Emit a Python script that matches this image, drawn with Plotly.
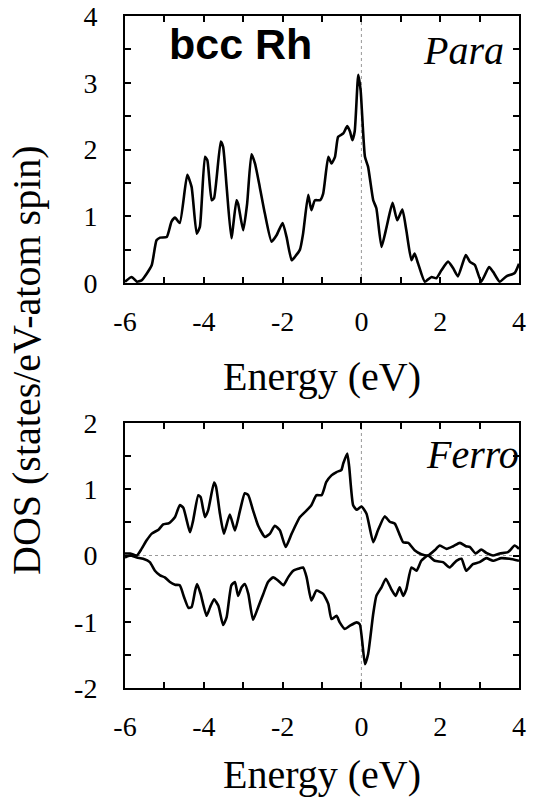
import plotly.graph_objects as go

# ---------------- data ----------------
para_E = [-6.00, -5.83, -5.70, -5.58, -5.45, -5.32, -5.20, -5.11, -4.94, -4.82, -4.73, -4.61,
          -4.42, -4.31, -4.18, -4.10, -3.97, -3.91, -3.80, -3.74, -3.57, -3.51, -3.42, -3.30,
          -3.17, -3.13, -3.00, -2.90, -2.79, -2.70, -2.58, -2.45, -2.28, -2.15, -2.00, -1.90,
          -1.77, -1.69, -1.56, -1.48, -1.35, -1.27, -1.18, -1.05, -0.97, -0.84, -0.76, -0.67,
          -0.59, -0.46, -0.36, -0.29, -0.23, -0.17, -0.08, -0.02, 0.09, 0.17, 0.30, 0.38,
          0.51, 0.64, 0.79, 0.91, 1.04, 1.14, 1.27, 1.35, 1.44, 1.61, 1.78, 1.90,
          2.03, 2.20, 2.33, 2.45, 2.65, 2.75, 2.88, 3.04, 3.24, 3.34, 3.51, 3.68, 3.89, 4.00]
para_dos = [0.02, 0.09, 0.02, 0.04, 0.14, 0.27, 0.64, 0.68, 0.69, 0.92, 0.98, 0.90,
            1.62, 1.44, 0.74, 0.84, 1.89, 1.84, 1.24, 1.27, 2.12, 2.04, 1.44, 0.67,
            1.24, 1.19, 0.79, 1.19, 1.93, 1.79, 1.44, 1.04, 0.62, 0.72, 0.90, 0.69,
            0.34, 0.39, 0.50, 0.74, 1.32, 1.09, 1.24, 1.24, 1.34, 1.89, 1.79, 1.89,
            2.19, 2.24, 2.35, 2.27, 2.14, 2.27, 3.12, 2.89, 1.89, 1.74, 1.24, 1.12,
            0.54, 0.84, 1.20, 0.94, 1.10, 0.79, 0.34, 0.44, 0.29, 0.02, 0.09, 0.07,
            0.19, 0.32, 0.22, 0.10, 0.42, 0.32, 0.27, 0.02, 0.24, 0.17, 0.02, 0.10, 0.15, 0.29]

up_E = [-6.00, -5.87, -5.70, -5.58, -5.45, -5.32, -5.15, -5.03, -4.88, -4.73, -4.61, -4.52,
        -4.35, -4.27, -4.14, -4.08, -3.97, -3.89, -3.74, -3.69, -3.59, -3.49, -3.34, -3.21,
        -3.08, -2.96, -2.87, -2.75, -2.62, -2.45, -2.32, -2.20, -2.07, -1.92, -1.77, -1.56,
        -1.39, -1.27, -1.14, -1.01, -0.89, -0.76, -0.63, -0.51, -0.46, -0.36, -0.31, -0.21,
        -0.12, 0.00, 0.13, 0.30, 0.42, 0.59, 0.72, 0.85, 0.96, 1.06, 1.19, 1.35,
        1.52, 1.69, 1.86, 1.99, 2.16, 2.33, 2.50, 2.65, 2.75, 2.90, 3.04, 3.17,
        3.34, 3.51, 3.72, 3.89, 4.00]
up_dos = [0.03, 0.03, 0.00, 0.10, 0.23, 0.33, 0.39, 0.47, 0.49, 0.58, 0.76, 0.72,
          0.35, 0.53, 0.91, 0.88, 0.58, 0.68, 1.10, 1.04, 0.63, 0.33, 0.62, 0.38,
          0.68, 0.94, 0.91, 0.68, 0.45, 0.28, 0.33, 0.45, 0.38, 0.13, 0.33, 0.58,
          0.68, 0.76, 0.91, 0.91, 1.11, 1.21, 1.26, 1.29, 1.39, 1.54, 1.34, 0.76,
          0.69, 0.74, 0.63, 0.20, 0.38, 0.59, 0.51, 0.48, 0.33, 0.20, 0.19, 0.08,
          0.02, 0.00, 0.08, 0.15, 0.10, 0.14, 0.19, 0.14, 0.13, 0.03, 0.09, 0.04,
          0.00, 0.03, 0.05, 0.15, 0.10]

down_E = [-6.00, -5.87, -5.70, -5.54, -5.37, -5.24, -5.11, -4.99, -4.86, -4.73, -4.61, -4.50,
          -4.39, -4.31, -4.22, -4.17, -4.08, -3.93, -3.84, -3.74, -3.63, -3.51, -3.42, -3.30,
          -3.21, -3.13, -3.04, -2.96, -2.87, -2.75, -2.62, -2.49, -2.37, -2.24, -2.11, -1.98,
          -1.86, -1.73, -1.60, -1.48, -1.39, -1.27, -1.14, -0.97, -0.84, -0.76, -0.63, -0.55,
          -0.42, -0.29, -0.12, -0.04, 0.09, 0.17, 0.30, 0.38, 0.51, 0.62, 0.76, 0.87,
          0.97, 1.06, 1.14, 1.27, 1.40, 1.52, 1.69, 1.86, 2.07, 2.24, 2.41, 2.54,
          2.66, 2.83, 3.00, 3.17, 3.34, 3.55, 3.76, 4.00]
down_dos = [-0.03, 0.00, -0.03, -0.05, -0.10, -0.23, -0.30, -0.33, -0.40, -0.44, -0.45, -0.63,
            -0.79, -0.78, -0.53, -0.43, -0.58, -0.91, -0.78, -0.66, -0.76, -1.05, -0.93, -0.45,
            -0.40, -0.61, -0.48, -0.43, -0.58, -0.97, -0.78, -0.58, -0.40, -0.33, -0.38, -0.45,
            -0.33, -0.23, -0.20, -0.18, -0.33, -0.68, -0.53, -0.58, -0.73, -0.96, -0.91, -1.01,
            -1.11, -1.06, -1.01, -1.04, -1.64, -1.49, -0.88, -0.61, -0.48, -0.35, -0.51, -0.61,
            -0.48, -0.61, -0.51, -0.18, -0.23, -0.08, 0.00, -0.08, -0.10, -0.18, -0.08, -0.05,
            -0.23, -0.13, -0.10, -0.04, -0.08, -0.04, -0.05, -0.08]

x_ticks = [-6, -4, -2, 0, 2, 4]
y_ticks_top = [0, 1, 2, 3, 4]
y_ticks_bot = [-2, -1, 0, 1, 2]

# ---------------- figure ----------------
W, H = 534, 805
SERIF = "Liberation Serif"
SANS = "Liberation Sans"
line = dict(color="black", width=2.6, shape="spline", smoothing=0.5)

fig = go.Figure()
fig.add_trace(go.Scatter(x=para_E, y=para_dos, mode="lines", line=line, xaxis="x", yaxis="y",
                         showlegend=False, hoverinfo="skip"))
fig.add_trace(go.Scatter(x=up_E, y=up_dos, mode="lines", line=line, xaxis="x2", yaxis="y2",
                         showlegend=False, hoverinfo="skip"))
fig.add_trace(go.Scatter(x=down_E, y=down_dos, mode="lines", line=line, xaxis="x2", yaxis="y2",
                         showlegend=False, hoverinfo="skip"))

def px_x(p):
    return p / W

def px_y(p):
    return 1 - p / H

xdom = [px_x(125), px_x(519)]
ydom_top = [px_y(283), px_y(16)]
ydom_bot = [px_y(688), px_y(423)]

def xaxis(anchor):
    return dict(domain=xdom, range=[-6, 4], anchor=anchor, tickvals=x_ticks,
                ticktext=[str(v) for v in x_ticks], automargin=False,
                ticks="inside", ticklen=6, tickwidth=1.5, tickcolor="black",
                minor=dict(dtick=1, ticks="inside", ticklen=6, tickwidth=1.5, tickcolor="black"),
                showline=True, linecolor="black", linewidth=2, mirror="ticks",
                showgrid=False, zeroline=False,
                tickfont=dict(family=SERIF, size=28, color="black"),
                ticklabelstandoff=12)

def yaxis(anchor, dom, rng, tv):
    return dict(domain=dom, range=rng, anchor=anchor, tickvals=tv,
                ticktext=[str(v) for v in tv], automargin=False,
                ticks="inside", ticklen=6, tickwidth=1.5, tickcolor="black",
                minor=dict(dtick=0.5, ticks="inside", ticklen=6, tickwidth=1.5, tickcolor="black"),
                showline=True, linecolor="black", linewidth=2, mirror="ticks",
                showgrid=False, zeroline=False,
                tickfont=dict(family=SERIF, size=28, color="black"),
                ticklabelstandoff=20)

fig.update_layout(
    width=W, height=H, autosize=False,
    margin=dict(l=0, r=0, t=0, b=0, pad=0),
    paper_bgcolor="white", plot_bgcolor="white",
    xaxis=xaxis("y"),
    yaxis=yaxis("x", ydom_top, [0, 4], y_ticks_top),
    xaxis2=xaxis("y2"),
    yaxis2=yaxis("x2", ydom_bot, [-2, 2], y_ticks_bot),
)

dot = dict(color="#999999", width=1, dash="dot")
fig.add_shape(type="line", xref="x", yref="y", x0=0, x1=0, y0=0, y1=4, line=dot, layer="below")
fig.add_shape(type="line", xref="x2", yref="y2", x0=0, x1=0, y0=-2, y1=2, line=dot, layer="below")
fig.add_shape(type="line", xref="x2", yref="y2", x0=-6, x1=4, y0=0, y1=0, line=dot, layer="below")

ann = [
    dict(text="Energy (eV)", x=px_x(322), y=px_y(376), font=dict(family=SERIF, size=40)),
    dict(text="Energy (eV)", x=px_x(322), y=px_y(774), font=dict(family=SERIF, size=40)),
    dict(text="DOS (states/eV-atom spin)", x=px_x(27), y=px_y(360), textangle=-90,
         font=dict(family=SERIF, size=40)),
    dict(text="<b>bcc Rh</b>", x=px_x(240), y=px_y(44),
         font=dict(family=SANS, size=43)),
    dict(text="<i>Para</i>", x=px_x(463), y=px_y(50), font=dict(family=SERIF, size=40)),
    dict(text="<i>Ferro</i>", x=px_x(521), y=px_y(455), xanchor="right",
         font=dict(family=SERIF, size=40)),
]
for a in ann:
    a.setdefault("xanchor", "center")
    a.update(xref="paper", yref="paper", yanchor="middle", showarrow=False)
    a["font"]["color"] = "black"
fig.update_layout(annotations=ann)

fig.write_html("out.html")
